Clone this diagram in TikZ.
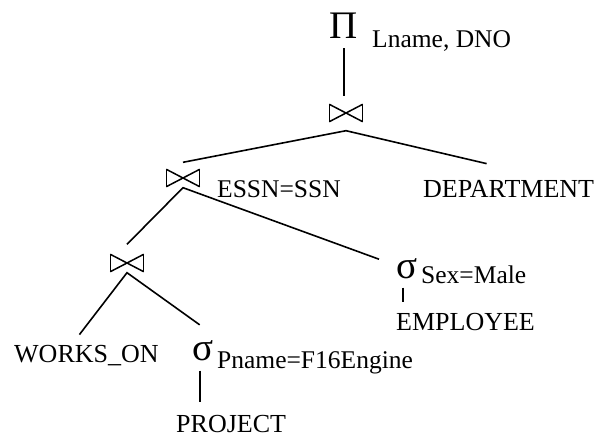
\documentclass[tikz,border=0pt]{standalone}
\usepackage{fontspec}
\setmainfont{Liberation Serif}
\usepackage{tikz}

\tikzset{
  rel/.style={inner sep=0pt, font=\fontsize{26}{30}\selectfont},
  cond/.style={inner sep=0pt, font=\fontsize{25.5}{29}\selectfont},
  bigop/.style={inner sep=0pt, font=\fontsize{39}{43}\selectfont},
  joinop/.style={minimum width=33pt, minimum height=17pt, inner sep=0pt,
    append after command={
      (\tikzlastnode.north west) edge[line width=1.5pt] (\tikzlastnode.south east)
      (\tikzlastnode.south east) edge[line width=1.5pt] (\tikzlastnode.north east)
      (\tikzlastnode.north east) edge[line width=1.5pt] (\tikzlastnode.south west)
      (\tikzlastnode.south west) edge[line width=1.5pt] (\tikzlastnode.north west)}},
  tree/.style={line width=1.6pt}
}

\begin{document}
\begin{tikzpicture}[x=1pt, y=-1pt]
	\useasboundingbox (0,0) rectangle (597,439);
	%Projektion
	\node (proj) at (344,38) [bigop, anchor=base] {Π};
	\node (projsub) at (372,47) [cond, anchor=base west] {Lname, DNO};
	%
	%Verbund oben
	\node (j1) at (346,113) [joinop] {};
	\coordinate (j1b) at ([yshift=-9pt]j1.south);
	%
	%Linie Projektion - Verbund
	\draw[tree, shorten <=10pt, shorten >=8pt] (proj.south) -- (proj.south |- j1.north);
	%
	%Verbund ESSN=SSN
	\node (j2) at (183,178) [joinop] {};
	\node (j2sub) at (217,197) [cond, anchor=base west] {ESSN=SSN};
	%
	%DEPARTMENT
	\node (dept) at (423,197) [rel, anchor=base west] {DEPARTMENT};
	%
	%Linien Verbund oben
	\draw[tree] ([yshift=7pt]j2.north) -- (j1b) -- ([xshift=-22pt, yshift=16pt]dept.north);
	%
	%Verbund unten
	\node (j3) at (127,263) [joinop] {};
	%
	%Selektion Sex
	\node (sigS) at (396,278) [bigop, anchor=base west] {σ};
	\node (sigSsub) at (421,283) [cond, anchor=base west] {Sex=Male};
	\node (emp) at (396,330) [rel, anchor=base west] {EMPLOYEE};
	%
	%Linien Verbund ESSN=SSN
	\draw[tree] ([yshift=10pt]j3.north) -- ([yshift=-1pt]j2.south) -- ([xshift=-17pt, yshift=9pt]sigS.west);
	%
	%Linie Selektion Sex - EMPLOYEE
	\draw[tree, shorten <=9pt, shorten >=11pt] ([xshift=-4pt]sigS.south) -- ([xshift=-4pt]sigS.south |- emp.north);
	%
	%WORKS_ON
	\node (works) at (14,362) [rel, anchor=base west] {WORKS\_ON};
	%
	%Selektion Pname
	\node (sigP) at (192,360) [bigop, anchor=base west] {σ};
	\node (sigPsub) at (217,368) [cond, anchor=base west] {Pname=F16Engine};
	\node (proj2) at (176,432) [rel, anchor=base west] {PROJECT};
	%
	%Linien Verbund unten
	\draw[tree] ([xshift=-7pt, yshift=10pt]works.north) -- ([yshift=-1pt]j3.south) -- ([xshift=-3pt, yshift=15pt]sigP.north);
	%
	%Linie Selektion Pname - PROJECT
	\draw[tree, shorten <=10pt, shorten >=13pt] ([xshift=-3pt]sigP.south) -- ([xshift=-3pt]sigP.south |- proj2.north);
\end{tikzpicture}
\end{document}
